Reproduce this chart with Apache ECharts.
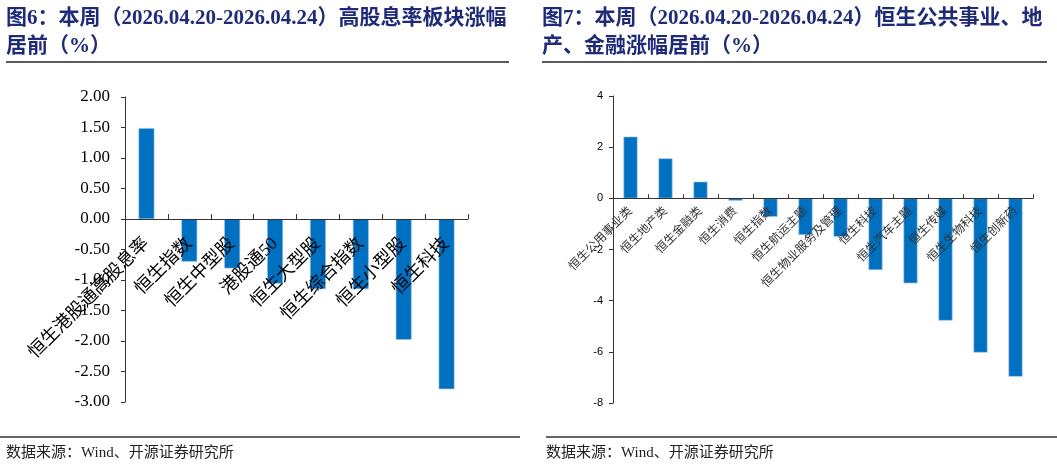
<!DOCTYPE html>
<html>
<head>
<meta charset="utf-8">
<script src="https://cdn.jsdelivr.net/npm/echarts@6/dist/echarts.min.js"></script>
<style>
html,body{margin:0;padding:0;background:#fff;}
#c{width:1057px;height:468px;}
</style>
</head>
<body>
<div id="c"></div>
<script>
// ---- data ----
const title1 = '图6：本周（2026.04.20-2026.04.24）高股息率板块涨幅\n居前（%）';
const title2 = '图7：本周（2026.04.20-2026.04.24）恒生公共事业、地\n产、金融涨幅居前（%）';
const sourceText = '数据来源：Wind、开源证券研究所';

const cats1 = ['恒生港股通高股息率','恒生指数','恒生中型股','港股通50','恒生大型股','恒生综合指数','恒生小型股','恒生科技'];
const vals1 = [1.49, -0.70, -0.81, -1.06, -1.15, -1.15, -1.98, -2.79];
const yTicks1 = {min: -3, max: 2, interval: 0.5};

const cats2 = ['恒生公用事业类','恒生地产类','恒生金融类','恒生消费','恒生指数','恒生航运主题','恒生物业服务及管理','恒生科技','恒生汽车主题','恒生传媒','恒生生物科技','恒生创新药'];
const vals2 = [2.41, 1.56, 0.65, -0.09, -0.72, -1.43, -1.50, -2.80, -3.32, -4.78, -6.03, -6.97];
const yTicks2 = {min: -8, max: 4, interval: 2};

// ---- layout ----
const g1 = {left: 125, top: 97, width: 343, height: 305};
const g2 = {left: 613, top: 96, width: 420, height: 307};
// shift the category axis (line, ticks, labels) up to the value-axis zero
const zeroOffset = (g, t) => -g.height * (0 - t.min) / (t.max - t.min);

// ---- chart ----
const serifCN = '"Liberation Serif", "Noto Sans CJK SC", serif';
const barColor = '#0070C0';
const chart = echarts.init(document.getElementById('c'), null, {renderer: 'canvas'});

const titleStyle = {
  fontFamily: serifCN, fontSize: 21, fontWeight: 'bold', color: '#1F2A78', lineHeight: 28
};

chart.setOption({
  animation: false,
  title: [
    {text: title1, left: 6, top: 5, padding: 0, textStyle: titleStyle},
    {text: title2, left: 542, top: 5, padding: 0, textStyle: titleStyle}
  ],
  graphic: [
    {type: 'line', shape: {x1: 6, y1: 62, x2: 509, y2: 62}, style: {stroke: '#222', lineWidth: 1.5}},
    {type: 'line', shape: {x1: 542, y1: 62, x2: 1047, y2: 62}, style: {stroke: '#222', lineWidth: 1.5}},
    {type: 'line', shape: {x1: 0, y1: 437, x2: 520, y2: 437}, style: {stroke: '#666', lineWidth: 2}},
    {type: 'line', shape: {x1: 546, y1: 437, x2: 1057, y2: 437}, style: {stroke: '#666', lineWidth: 2}},
    {type: 'text', left: 6, top: 446, style: {text: sourceText, font: '15px "Liberation Serif", "Noto Sans CJK SC"', fill: '#222'}},
    {type: 'text', left: 546, top: 446, style: {text: sourceText, font: '15px "Liberation Serif", "Noto Sans CJK SC"', fill: '#222'}}
  ],
  grid: [
    Object.assign({containLabel: false, outerBoundsMode: 'none'}, g1),
    Object.assign({containLabel: false, outerBoundsMode: 'none'}, g2)
  ],
  xAxis: [
    {
      type: 'category', gridIndex: 0, data: cats1, position: 'bottom', z: 5,
      offset: zeroOffset(g1, yTicks1),
      axisLine: {onZero: false, lineStyle: {color: '#333', width: 1}},
      axisTick: {show: true, inside: true, length: 5, lineStyle: {color: '#333'}},
      axisLabel: {rotate: 45, interval: 0, margin: 22, fontFamily: serifCN, fontSize: 18, color: '#000'}
    },
    {
      type: 'category', gridIndex: 1, data: cats2, position: 'bottom', z: 5,
      offset: zeroOffset(g2, yTicks2),
      axisLine: {onZero: false, lineStyle: {color: '#333', width: 1}},
      axisTick: {show: true, inside: true, length: 4, lineStyle: {color: '#333'}},
      axisLabel: {rotate: 45, interval: 0, margin: 11, fontFamily: serifCN, fontSize: 12, color: '#333'}
    }
  ],
  yAxis: [
    {
      type: 'value', gridIndex: 0, min: yTicks1.min, max: yTicks1.max, interval: yTicks1.interval,
      axisLine: {show: true, lineStyle: {color: '#333', width: 1}},
      axisTick: {show: true, length: 4, lineStyle: {color: '#333'}},
      splitLine: {show: false},
      axisLabel: {formatter: v => v.toFixed(2), fontFamily: '"Liberation Serif", serif', fontSize: 17, color: '#000', margin: 15}
    },
    {
      type: 'value', gridIndex: 1, min: yTicks2.min, max: yTicks2.max, interval: yTicks2.interval,
      axisLine: {show: true, lineStyle: {color: '#333', width: 1}},
      axisTick: {show: true, length: 4, lineStyle: {color: '#333'}},
      splitLine: {show: false},
      axisLabel: {fontFamily: '"Liberation Sans", sans-serif', fontSize: 11, color: '#000', margin: 10}
    }
  ],
  series: [
    {type: 'bar', xAxisIndex: 0, yAxisIndex: 0, data: vals1, barCategoryGap: '63%', z: 2,
     itemStyle: {color: barColor, borderColor: '#9CC3E5', borderWidth: 0.6}},
    {type: 'bar', xAxisIndex: 1, yAxisIndex: 1, data: vals2, barCategoryGap: '60%', z: 2,
     itemStyle: {color: barColor, borderColor: '#9CC3E5', borderWidth: 0.6}}
  ]
});
</script>
</body>
</html>
